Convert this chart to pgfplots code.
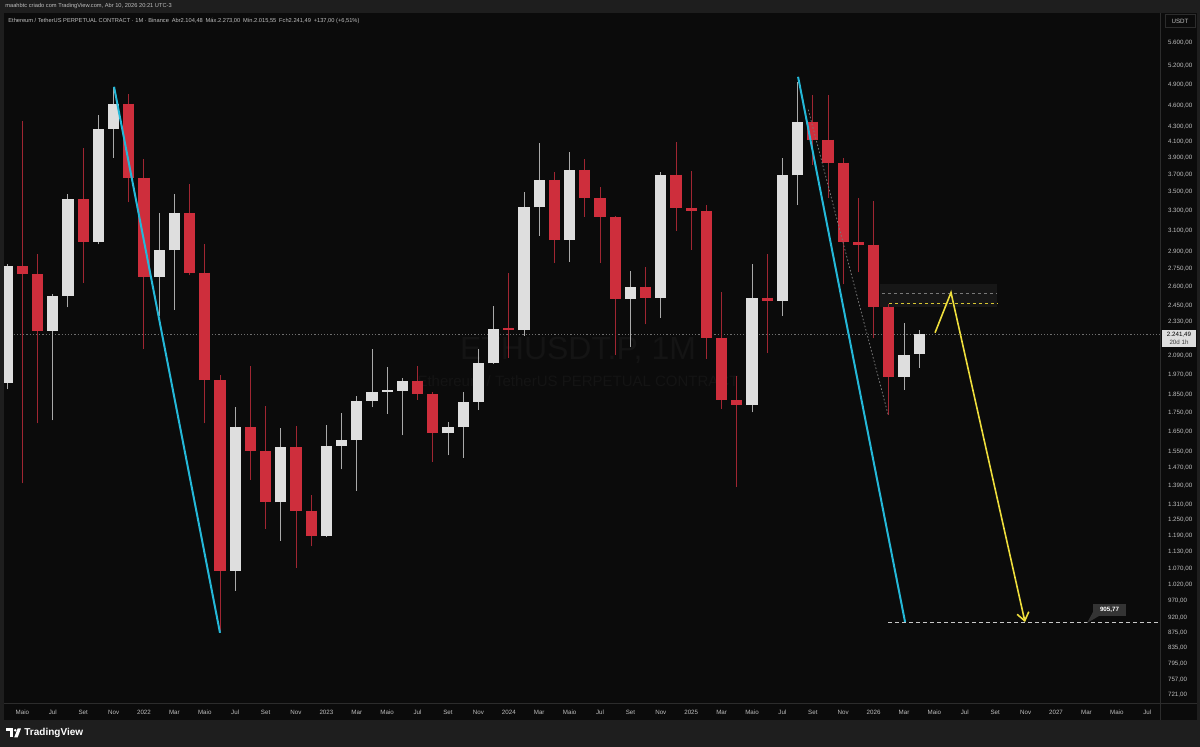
\documentclass[border=0pt]{standalone}
\usepackage{pgfplots}
\pgfplotsset{compat=1.18}
\usepackage{fontspec}
\setmainfont{Liberation Sans}
\usetikzlibrary{arrows.meta}
\definecolor{panebg}{RGB}{11,11,11}
\definecolor{framebg}{RGB}{30,30,30}
\definecolor{sep}{RGB}{44,44,44}
\definecolor{cred}{RGB}{206,46,60}
\definecolor{cwhite}{RGB}{222,222,222}
\definecolor{wwick}{RGB}{170,170,170}
\definecolor{rwick}{RGB}{160,38,50}
\definecolor{tcyan}{RGB}{36,184,216}
\definecolor{tyellow}{RGB}{238,222,60}
\definecolor{tyellowd}{RGB}{215,198,50}
\definecolor{lbl}{RGB}{190,190,190}
\definecolor{wm}{RGB}{20,20,20}
\definecolor{zone}{RGB}{23,23,23}
\definecolor{gline}{RGB}{120,120,120}
\definecolor{pline}{RGB}{110,110,110}
\definecolor{tline}{RGB}{200,200,200}
\definecolor{boxg}{RGB}{52,52,52}
\definecolor{subt}{RGB}{60,60,60}
\newcommand{\sm}{\fontsize{3.1}{3.7}\selectfont}
\newcommand{\smh}{\fontsize{2.85}{3.4}\selectfont}
\begin{document}
\begin{tikzpicture}
\fill[framebg] (0,0) rectangle (600pt,373.5pt);
\begin{scope}[x=0.5pt,y=-0.5pt,yshift=373.5pt]
  \fill[panebg] (4,13) rectangle (1197,720);
  \node[text=wm, font=\fontsize{16}{18}\selectfont] at (578,350) {ETHUSDT.P, 1M};
  \node[text=wm, font=\fontsize{7.5}{9}\selectfont] at (578,381) {Ethereum / TetherUS PERPETUAL CONTRACT};
  \draw[sep, line width=0.5pt] (1160,13) -- (1160,720);
  \draw[sep, line width=0.5pt] (4,704) -- (1197,704);
  \node[anchor=west, text=lbl, font=\smh, inner sep=0pt] at (5,6.5) {maahbtc criado com TradingView.com, Abr 10, 2026 20:21 UTC-3};
  \node[anchor=west, text=lbl, font=\smh, inner sep=0pt] at (8,21) {Ethereum / TetherUS PERPETUAL CONTRACT · 1M · Binance\enspace Abr2.104,48\enspace Máx.2.273,00\enspace Mín.2.015,55\enspace Fch2.241,49\enspace +137,00 (+6,51\%)};
\end{scope}
\begin{axis}[
  at={(2pt,21.5pt)}, anchor=south west,
  width=578pt, height=345.5pt, scale only axis,
  xmin=-9.21, xmax=66.84,
  ymode=log, ymin=700.6, ymax=6148,
  axis line style={draw=none},
  tick style={draw=none},
  major tick length=0pt,
  xtick={-8,-6,...,66},
  xticklabels={Maio,Jul,Set,Nov,2022,Mar,Maio,Jul,Set,Nov,2023,Mar,Maio,Jul,Set,Nov,2024,Mar,Maio,Jul,Set,Nov,2025,Mar,Maio,Jul,Set,Nov,2026,Mar,Maio,Jul,Set,Nov,2027,Mar,Maio,Jul},
  xticklabel style={font=\sm, text=lbl, anchor=center, yshift=-4pt},
  ytick={5600,5200,4900,4600,4300,4100,3900,3700,3500,3300,3100,2900,2750,2600,2450,2330,2090,1970,1850,1750,1650,1550,1470,1390,1310,1250,1190,1130,1070,1020,970,920,875,835,795,757,721},
  yticklabels={{5.600,00},{5.200,00},{4.900,00},{4.600,00},{4.300,00},{4.100,00},{3.900,00},{3.700,00},{3.500,00},{3.300,00},{3.100,00},{2.900,00},{2.750,00},{2.600,00},{2.450,00},{2.330,00},{2.090,00},{1.970,00},{1.850,00},{1.750,00},{1.650,00},{1.550,00},{1.470,00},{1.390,00},{1.310,00},{1.250,00},{1.190,00},{1.130,00},{1.070,00},{1.020,00},{970,00},{920,00},{875,00},{835,00},{795,00},{757,00},{721,00}},
  yticklabel pos=right,
  yticklabel style={font=\sm, text=lbl, anchor=west, xshift=0.5pt},
  unbounded coords=jump,
]
% zone
\addplot[fill=zone, draw=none] coordinates {(48.42,2437) (56.12,2437) (56.12,2626) (48.42,2626)} --cycle;
\addplot[gline, line width=0.4pt, dash pattern=on 1.5pt off 1.5pt] coordinates {(48.55,2545) (56.12,2545)};
\addplot[tyellowd, line width=0.4pt, dash pattern=on 1.5pt off 1.5pt] coordinates {(49.0,2466) (56.12,2466)};
% current price line
\addplot[pline, line width=0.4pt, dash pattern=on 0.6pt off 1pt] coordinates {(-9.21,2241.49) (66.84,2241.49)};
% white wicks
\addplot[wwick, line width=0.5pt] coordinates {
(-9,1883) (-9,2797) (nan,nan)
(-6,1709) (-6,2545) (nan,nan)
(-5,2437) (-5,3477) (nan,nan)
(-3,2970) (-3,4462) (nan,nan)
(-2,3900) (-2,4868) (nan,nan)
(1,2374) (1,3274) (nan,nan)
(2,2418) (2,3477) (nan,nan)
(6,1000) (6,1780) (nan,nan)
(9,1171) (9,1670) (nan,nan)
(12,1185) (12,1685) (nan,nan)
(13,1465) (13,1750) (nan,nan)
(14,1370) (14,1845) (nan,nan)
(15,1780) (15,2140) (nan,nan)
(16,1745) (16,2018) (nan,nan)
(17,1630) (17,1950) (nan,nan)
(20,1530) (20,1700) (nan,nan)
(21,1520) (21,1870) (nan,nan)
(22,1765) (22,2135) (nan,nan)
(23,2040) (23,2445) (nan,nan)
(25,2230) (25,3500) (nan,nan)
(26,3050) (26,4089) (nan,nan)
(28,2810) (28,3970) (nan,nan)
(32,2150) (32,2730) (nan,nan)
(34,2360) (34,3725) (nan,nan)
(40,1752) (40,2790) (nan,nan)
(42,2375) (42,3895) (nan,nan)
(43,3360) (43,4956) (nan,nan)
(50,1880) (50,2320) (nan,nan)
(51,2015.55) (51,2273)
};
% red wicks
\addplot[rwick, line width=0.5pt] coordinates {
(-8,1401) (-8,4372) (nan,nan)
(-7,1692) (-7,2878) (nan,nan)
(-4,2634) (-4,4025) (nan,nan)
(-1,3389) (-1,4767) (nan,nan)
(0,2140) (0,3883) (nan,nan)
(3,2695) (3,3586) (nan,nan)
(4,1692) (4,2970) (nan,nan)
(5,881) (5,1968) (nan,nan)
(7,1418) (7,2025) (nan,nan)
(8,1216) (8,1785) (nan,nan)
(10,1074) (10,1680) (nan,nan)
(11,1150) (11,1350) (nan,nan)
(18,1822) (18,2025) (nan,nan)
(19,1500) (19,1870) (nan,nan)
(24,2080) (24,2718) (nan,nan)
(27,2800) (27,3725) (nan,nan)
(29,3240) (29,3887) (nan,nan)
(30,2800) (30,3563) (nan,nan)
(31,2100) (31,3243) (nan,nan)
(33,2310) (33,2765) (nan,nan)
(35,3100) (35,4100) (nan,nan)
(36,2920) (36,3743) (nan,nan)
(37,2075) (37,3362) (nan,nan)
(38,1770) (38,2555) (nan,nan)
(39,1385) (39,1965) (nan,nan)
(41,2110) (41,2880) (nan,nan)
(44,3815) (44,4755) (nan,nan)
(45,3435) (45,4750) (nan,nan)
(46,2620) (46,3894) (nan,nan)
(47,2720) (47,3440) (nan,nan)
(48,2210) (48,3400) (nan,nan)
(49,1740) (49,2460)
};
% white bodies (open -> close)
\addplot[cwhite, line width=5.6pt, line cap=butt] coordinates {
(-9,1919) (-9,2771) (nan,nan)
(-6,2265) (-6,2526) (nan,nan)
(-5,2526) (-5,3421) (nan,nan)
(-3,2997) (-3,4270) (nan,nan)
(-2,4270) (-2,4622) (nan,nan)
(1,2685) (1,2914) (nan,nan)
(2,2914) (2,3274) (nan,nan)
(6,1065) (6,1671) (nan,nan)
(9,1320) (9,1570) (nan,nan)
(12,1189) (12,1578) (nan,nan)
(13,1578) (13,1605) (nan,nan)
(14,1605) (14,1815) (nan,nan)
(15,1815) (15,1869) (nan,nan)
(16,1869) (16,1878) (nan,nan)
(17,1876) (17,1935) (nan,nan)
(20,1640) (20,1671) (nan,nan)
(21,1671) (21,1812) (nan,nan)
(22,1812) (22,2044) (nan,nan)
(23,2044) (23,2279) (nan,nan)
(25,2268) (25,3336) (nan,nan)
(26,3336) (26,3642) (nan,nan)
(28,3010) (28,3758) (nan,nan)
(32,2505) (32,2600) (nan,nan)
(34,2513) (34,3698) (nan,nan)
(40,1793) (40,2513) (nan,nan)
(42,2485) (42,3690) (nan,nan)
(43,3690) (43,4370) (nan,nan)
(50,1960) (50,2098) (nan,nan)
(51,2104.48) (51,2241.49)
};
% red bodies (open -> close)
\addplot[cred, line width=5.6pt, line cap=butt] coordinates {
(-8,2771) (-8,2702) (nan,nan)
(-7,2702) (-7,2265) (nan,nan)
(-4,3421) (-4,2997) (nan,nan)
(-1,4622) (-1,3665) (nan,nan)
(0,3665) (0,2685) (nan,nan)
(3,3274) (3,2719) (nan,nan)
(4,2719) (4,1937) (nan,nan)
(5,1937) (5,1065) (nan,nan)
(7,1671) (7,1550) (nan,nan)
(8,1550) (8,1320) (nan,nan)
(10,1570) (10,1286) (nan,nan)
(11,1286) (11,1189) (nan,nan)
(18,1935) (18,1855) (nan,nan)
(19,1855) (19,1640) (nan,nan)
(24,2282) (24,2266) (nan,nan)
(27,3642) (27,3010) (nan,nan)
(29,3758) (29,3432) (nan,nan)
(30,3432) (30,3240) (nan,nan)
(31,3240) (31,2505) (nan,nan)
(33,2600) (33,2513) (nan,nan)
(35,3698) (35,3333) (nan,nan)
(36,3333) (36,3300) (nan,nan)
(37,3300) (37,2216) (nan,nan)
(38,2216) (38,1822) (nan,nan)
(39,1822) (39,1793) (nan,nan)
(41,2513) (41,2485) (nan,nan)
(44,4370) (44,4128) (nan,nan)
(45,4128) (45,3843) (nan,nan)
(46,3843) (46,2988) (nan,nan)
(47,2988) (47,2967) (nan,nan)
(48,2967) (48,2443) (nan,nan)
(49,2443) (49,1960)
};
% drawings
\addplot[gline, line width=0.4pt, dash pattern=on 0.8pt off 1pt] coordinates {(43.7,4536) (48.95,1740)};
\addplot[tcyan, line width=1pt] coordinates {(-1.97,4874) (5.0,876)};
\addplot[tcyan, line width=1pt] coordinates {(43.03,5030) (50.07,906)};
\addplot[tline, line width=0.5pt, dash pattern=on 2pt off 1.5pt] coordinates {(48.95,905.77) (66.84,905.77)};
\addplot[tyellow, line width=0.8pt, -{Straight Barb[length=4pt,width=6pt]}] coordinates {(52.04,2250) (53.09,2553) (57.96,906)};
\end{axis}
\begin{scope}[x=0.5pt,y=-0.5pt,yshift=373.5pt]
  \fill[cwhite] (1162,330) rectangle (1196,347);
  \node[text=black, font=\sm, inner sep=0pt] at (1179,334.5) {2.241,49};
  \node[text=subt, font=\sm, inner sep=0pt] at (1179,342.5) {20d 1h};
  \draw[sep, fill=panebg, line width=0.5pt] (1165,15) rectangle (1195,28);
  \node[text=lbl, font=\sm, inner sep=0pt] at (1180,21.5) {USDT};
  \fill[boxg] (1093,604) rectangle (1126,616);
  \fill[boxg] (1093,612) -- (1087,623) -- (1099,616) -- cycle;
  \node[text=white, font=\sm\bfseries, inner sep=0pt] at (1109.5,610) {905,77};
  \fill[white] (6,728.5) rectangle (12.8,731.3);
  \fill[white] (9.8,728.5) rectangle (12.8,737.5);
  \fill[white] (15.3,730.3) circle (1.4);
  \fill[white] (17.6,728.5) -- (21,728.5) -- (17.6,737.5) -- (14.2,737.5) -- cycle;
  \node[anchor=west, text=white, font=\fontsize{5}{6}\selectfont\bfseries, inner sep=0pt] at (24,733) {TradingView};
\end{scope}
\pgfresetboundingbox
\path[use as bounding box] (0,0) rectangle (600pt,373.5pt);
\end{tikzpicture}
\end{document}
